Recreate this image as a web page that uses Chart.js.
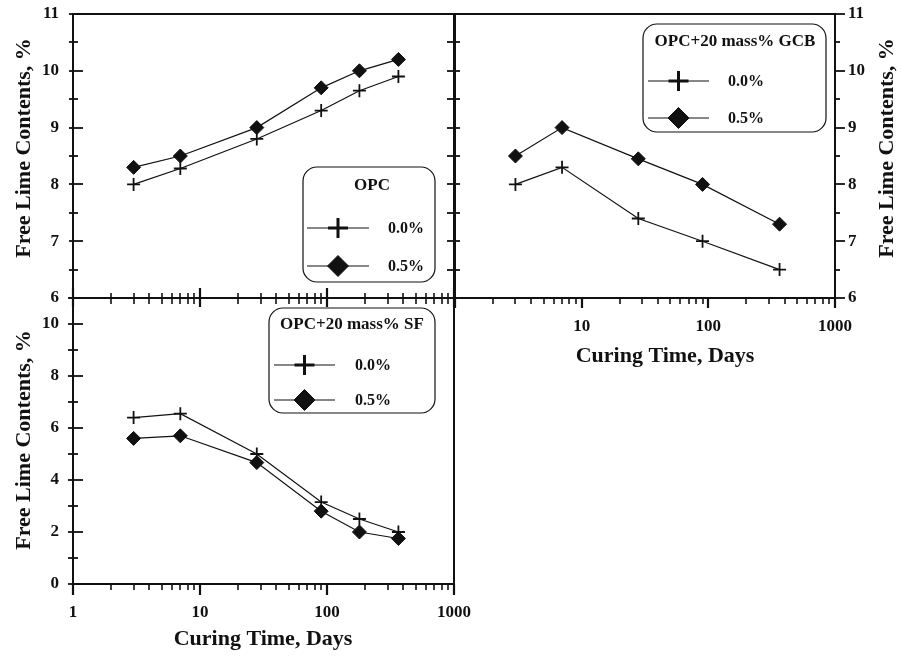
<!DOCTYPE html>
<html>
<head>
<meta charset="utf-8">
<title>Free lime contents</title>
<script src="https://cdn.jsdelivr.net/npm/chart.js@4.4.0/dist/chart.umd.min.js"></script>
<style>
  body { margin: 0; background: #fff; }
  #wrap { position: relative; width: 901px; height: 657px; }
  canvas { position: absolute; left: 0; top: 0; }
</style>
</head>
<body>
<div id="wrap">
  <canvas id="chartOPC" width="901" height="657"></canvas>
  <canvas id="chartGCB" width="901" height="657"></canvas>
  <canvas id="chartSF" width="901" height="657"></canvas>
</div>
<script>
// curing time, days
const daysOPC = [3, 7, 28, 90, 180, 365];
const daysGCB = [3, 7, 28, 90, 365];
const daysSF = [3, 7, 28, 90, 180, 365];

const seriesLabels = ['0.0%', '0.5%'];

// free lime contents, %
const opc00 = [8.0, 8.28, 8.8, 9.3, 9.65, 9.9];
const opc05 = [8.3, 8.5, 9.0, 9.7, 10.0, 10.2];
const gcb00 = [8.0, 8.3, 7.4, 7.0, 6.5];
const gcb05 = [8.5, 9.0, 8.45, 8.0, 7.3];
const sf00 = [6.4, 6.55, 5.0, 3.15, 2.5, 2.0];
const sf05 = [5.6, 5.7, 4.67, 2.8, 2.0, 1.75];

// tick labels
const xTicksSF = [1, 10, 100, 1000];
const xTicksGCB = [10, 100, 1000];
const yTicksTop = [6, 7, 8, 9, 10, 11];
const yTicksSF = [0, 2, 4, 6, 8, 10];

const INK = '#111';
const SERIF = "'Liberation Serif', 'Times New Roman', serif";
const tickFont = { family: SERIF, size: 17, weight: 'bold' };

function makeSet(label, days, vals, style) {
    const cross = style === 'cross';
    return {
        label: label,
        data: days.map((d, i) => ({ x: d, y: vals[i] })),
        borderColor: INK,
        borderWidth: 1.2,
        backgroundColor: INK,
        pointStyle: style,
        pointRadius: cross ? 6.5 : 7,
        pointBorderWidth: cross ? 1.8 : 1,
        pointBorderColor: INK,
        pointBackgroundColor: INK,
        tension: 0,
        fill: false
    };
}

// frame, tick marks, axis titles and the boxed legend
const panelDecor = {
    id: 'panelDecor',
    afterDraw(chart, args, o) {
        const ctx = chart.ctx;
        const a = chart.chartArea;
        const xs = chart.scales.x, ys = chart.scales.y;
        ctx.save();
        ctx.strokeStyle = INK;
        ctx.lineWidth = 2;
        ctx.strokeRect(a.left, a.top, a.right - a.left, a.bottom - a.top);

        // log x ticks
        if (o.xTick) {
            const t = o.xTick;
            for (let d = 1; d <= 1000; d *= 10) {
                for (let k = 1; k <= 9; k++) {
                    const v = k * d;
                    if (v > 1000) break;
                    const major = k === 1;
                    const len = major ? t.major : t.minor;
                    const px = Math.round(xs.getPixelForValue(v));
                    ctx.lineWidth = major ? 2.2 : 1.6;
                    ctx.beginPath();
                    ctx.moveTo(px, a.bottom - len[0]);
                    ctx.lineTo(px, a.bottom + len[1]);
                    ctx.stroke();
                }
            }
        }
        // y ticks
        (o.yTicks || []).forEach(t => {
            const x0 = t.side === 'left' ? a.left : a.right;
            const sgn = t.side === 'left' ? -1 : 1;
            for (let v = ys.min; v <= ys.max + 1e-6; v += t.step) {
                const major = Math.abs(v / t.majorEvery - Math.round(v / t.majorEvery)) < 1e-6;
                const len = major ? t.major : t.minor;
                const py = Math.round(ys.getPixelForValue(v));
                ctx.lineWidth = 1.8;
                ctx.beginPath();
                ctx.moveTo(x0 - sgn * len[0], py);
                ctx.lineTo(x0 + sgn * len[1], py);
                ctx.stroke();
            }
        });

        // axis titles
        ctx.fillStyle = INK;
        ctx.textAlign = 'center';
        ctx.textBaseline = 'middle';
        (o.titles || []).forEach(t => {
            ctx.save();
            ctx.font = 'bold ' + t.size + 'px ' + SERIF;
            ctx.translate(t.x, t.y);
            if (t.rot) ctx.rotate(-Math.PI / 2);
            ctx.fillText(t.text, 0, 0);
            ctx.restore();
        });

        // legend box
        if (o.legend) {
            const L = o.legend;
            const [bx, by, bw, bh] = L.box;
            ctx.lineWidth = 1.2;
            ctx.beginPath();
            ctx.roundRect(bx, by, bw, bh, 14);
            ctx.fillStyle = '#fff';
            ctx.fill();
            ctx.stroke();
            ctx.fillStyle = INK;
            ctx.font = 'bold 17px ' + SERIF;
            ctx.textAlign = 'center';
            ctx.fillText(L.title, L.titleX, L.titleY);
            ctx.textAlign = 'left';
            ctx.font = 'bold 16px ' + SERIF;
            chart.data.datasets.forEach((ds, i) => {
                const y = L.rowsY[i];
                ctx.lineWidth = 1.2;
                ctx.beginPath();
                ctx.moveTo(L.lineX[0], y);
                ctx.lineTo(L.lineX[1], y);
                ctx.stroke();
                const cross = ds.pointStyle === 'cross';
                ctx.lineWidth = cross ? 3 : 1;
                Chart.helpers.drawPoint(ctx, {
                    pointStyle: ds.pointStyle, radius: cross ? 10 : 10.5,
                    rotation: 0, borderWidth: ctx.lineWidth
                }, (L.lineX[0] + L.lineX[1]) / 2, y);
                ctx.fillText(ds.label, L.textX, y + 1);
            });
        }
        ctx.restore();
    }
};

// no extra room for half labels at the ends of an axis
function noEndPadding(s) {
    s.paddingTop = 0;
    s.paddingBottom = 0;
    s.paddingLeft = 0;
    s.paddingRight = 0;
}

function yAxis(min, max, ticks, side, width) {
    return {
        type: 'linear', position: side, min: min, max: max,
        afterBuildTicks: s => { s.ticks = ticks.map(v => ({ value: v })); },
        afterFit: s => { s.width = width; noEndPadding(s); },
        grid: { display: false, drawTicks: false },
        border: { display: false },
        ticks: { font: tickFont, color: INK, padding: side === 'left' ? 14 : 13 }
    };
}

function xAxis(ticks, show) {
    return {
        type: 'logarithmic', position: 'bottom', min: 1, max: 1000, display: show,
        afterBuildTicks: s => { s.ticks = ticks.map(v => ({ value: v })); },
        afterFit: s => { s.height = show ? 40 : 0; noEndPadding(s); },
        grid: { display: false, drawTicks: false },
        border: { display: false },
        ticks: { font: tickFont, color: INK, padding: 18, autoSkip: false, maxRotation: 0,
                 callback: v => String(v) }
    };
}

function basePanel(id, sets, scales, padding, decor) {
    return new Chart(document.getElementById(id), {
        type: 'line',
        data: { datasets: sets },
        options: {
            responsive: false,
            animation: false,
            devicePixelRatio: 1,
            layout: { padding: padding },
            scales: scales,
            plugins: { legend: { display: false }, tooltip: { enabled: false }, panelDecor: decor }
        },
        plugins: [panelDecor]
    });
}

const yTitle = 'Free Lime Contents, %';
const xTitle = 'Curing Time, Days';

window.onload = () => {
    basePanel('chartOPC',
        [makeSet(seriesLabels[0], daysOPC, opc00, 'cross'), makeSet(seriesLabels[1], daysOPC, opc05, 'rectRot')],
        { x: xAxis(xTicksSF, false), y: yAxis(6, 11, yTicksTop, 'left', 73) },
        { left: 0, top: 14, right: 447, bottom: 359 },
        {
            xTick: { major: [10, 9], minor: [5, 6] },
            yTicks: [
                { side: 'left', step: 0.5, majorEvery: 1, major: [10, 4], minor: [5, 4] },
                { side: 'right', step: 0.5, majorEvery: 1, major: [7, 6], minor: [7, 6] }
            ],
            titles: [{ text: yTitle, x: 24, y: 148, size: 22, rot: true }],
            legend: { box: [303, 167, 132, 115], title: 'OPC', titleX: 372, titleY: 186,
                      lineX: [307, 369], rowsY: [228, 266], textX: 388 }
        });

    basePanel('chartGCB',
        [makeSet(seriesLabels[0], daysGCB, gcb00, 'cross'), makeSet(seriesLabels[1], daysGCB, gcb05, 'rectRot')],
        { x: xAxis(xTicksGCB, true), y: yAxis(6, 11, yTicksTop, 'right', 66) },
        { left: 455, top: 14, right: 0, bottom: 319 },
        {
            xTick: { major: [0, 10], minor: [0, 6] },
            yTicks: [{ side: 'right', step: 0.5, majorEvery: 1, major: [0, 10], minor: [0, 5] }],
            titles: [
                { text: yTitle, x: 887, y: 148, size: 22, rot: true },
                { text: xTitle, x: 665, y: 356, size: 22 }
            ],
            legend: { box: [643, 24, 183, 108], title: 'OPC+20 mass% GCB', titleX: 735, titleY: 42,
                      lineX: [648, 709], rowsY: [81, 118], textX: 728 }
        });

    basePanel('chartSF',
        [makeSet(seriesLabels[0], daysSF, sf00, 'cross'), makeSet(seriesLabels[1], daysSF, sf05, 'rectRot')],
        { x: xAxis(xTicksSF, true), y: yAxis(0, 11, yTicksSF, 'left', 73) },
        { left: 0, top: 298, right: 447, bottom: 33 },
        {
            xTick: { major: [0, 11], minor: [0, 6] },
            yTicks: [{ side: 'left', step: 1, majorEvery: 2, major: [10, 5], minor: [5, 5] }],
            titles: [
                { text: yTitle, x: 24, y: 440, size: 22, rot: true },
                { text: xTitle, x: 263, y: 639, size: 22 }
            ],
            legend: { box: [269, 308, 166, 105], title: 'OPC+20 mass% SF', titleX: 352, titleY: 325,
                      lineX: [274, 335], rowsY: [365, 400], textX: 355 }
        });
};
</script>
</body>
</html>
